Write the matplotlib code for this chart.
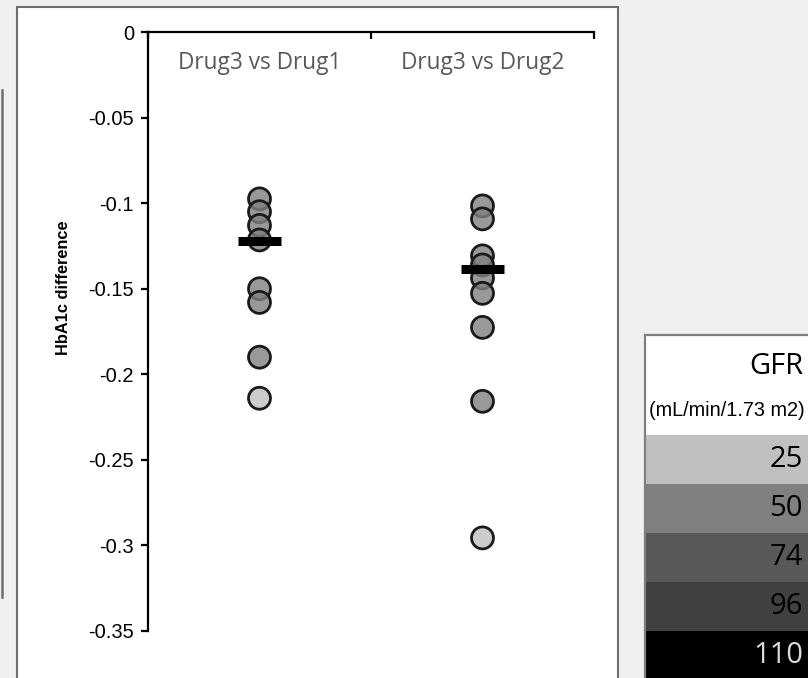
import numpy as np
import matplotlib
matplotlib.use("Agg")
import matplotlib.pyplot as plt
from matplotlib.patches import Rectangle
from matplotlib.lines import Line2D

# comparisons and per-study HbA1c differences
comparisons = ["Drug3 vs Drug1", "Drug3 vs Drug2"]
diff_drug1 = [-0.0975, -0.105, -0.113, -0.1215, -0.150, -0.158, -0.190, -0.214]
gfr_drug1 = [50, 50, 50, 50, 50, 50, 50, 25]
diff_drug2 = [-0.1016, -0.1092, -0.1308, -0.1361, -0.1437, -0.1527, -0.1726, -0.2158, -0.2956]
gfr_drug2 = [50, 50, 50, 50, 50, 50, 50, 50, 25]
pooled = [-0.1224, -0.1385]

yticks = [0, -0.05, -0.1, -0.15, -0.2, -0.25, -0.3, -0.35]
ytick_labels = ["0", "-0.05", "-0.1", "-0.15", "-0.2", "-0.25", "-0.3", "-0.35"]

# GFR legend bands
gfr_levels = [25, 50, 74, 96, 110]
gfr_colors = ["#c0c0c0", "#808080", "#595959", "#404040", "#000000"]
gfr_text_colors = ["black", "black", "black", "black", "#d9d9d9"]
gfr_lookup = dict(zip(gfr_levels, gfr_colors))

W, H = 808, 678
fig = plt.figure(figsize=(W / 100, H / 100), dpi=100, facecolor="#f0f0f0")

# white chart panel plus the edge of the neighbouring panel
fig.patches.append(Rectangle((17 / W, -0.01), (618 - 17) / W, 1 - 7 / H + 0.01,
                             transform=fig.transFigure, facecolor="white",
                             edgecolor="#6e6e6e", lw=1.5, zorder=-5))
fig.lines.append(Line2D([1.5 / W, 1.5 / W], [1 - 597 / H, 1 - 90 / H],
                        transform=fig.transFigure, color="#6e6e6e", lw=1.8, zorder=-5))

ax = fig.add_axes([148 / W, 1 - 631 / H, 446 / W, 599 / H])
ax.patch.set_visible(False)
ax.set_xlim(0.5, 2.5)
ax.set_ylim(-0.35, 0)

for spine in ["right", "bottom"]:
    ax.spines[spine].set_visible(False)
for spine in ["left", "top"]:
    ax.spines[spine].set_linewidth(1.6)
    ax.spines[spine].set_color("black")

ax.xaxis.tick_top()
ax.set_xticks([0.5, 1.5, 2.5])
ax.set_xticklabels([])
ax.tick_params(axis="x", direction="in", length=5, width=1.6)

ax.set_yticks(yticks)
ax.set_yticklabels(ytick_labels, fontsize=14.5, family="Liberation Sans")
ax.tick_params(axis="y", direction="out", length=5, width=1.6, pad=5)

ax.set_ylabel("HbA1c difference", fontsize=11.8, fontweight="bold", family="Liberation Sans")
ax.yaxis.set_label_coords(-0.172, 0.573)

for i, (name, vals, gfr) in enumerate([(comparisons[0], diff_drug1, gfr_drug1),
                                         (comparisons[1], diff_drug2, gfr_drug2)]):
    x = np.full(len(vals), i + 1)
    faces = [matplotlib.colors.to_rgba(gfr_lookup[g], 0.8) for g in gfr]
    ax.scatter(x, vals, s=250, facecolors=faces, edgecolors="#1a1a1a",
               linewidths=2, zorder=3, clip_on=False)
    ax.hlines(pooled[i], i + 1 - 0.095, i + 1 + 0.095, color="black", lw=6.5, zorder=4)
    ax.text(i + 1, -0.018, name, ha="center", va="center", fontsize=16.3,
            family="Open Sans", color="#595959")

# GFR legend table
lg = fig.add_axes([645 / W, 0, (W - 645) / W, (H - 335) / H])
lg.set_xlim(0, W - 645)
lg.set_ylim(H - 335, 0)
lg.set_xticks([])
lg.set_yticks([])
for spine in ["right", "bottom"]:
    lg.spines[spine].set_visible(False)
for spine in ["left", "top"]:
    lg.spines[spine].set_color("#7f7f7f")
    lg.spines[spine].set_linewidth(1.6)

right = W - 645 - 5
lg.text(right, 32, "GFR", ha="right", va="center", fontsize=21, family="Open Sans", color="black")
lg.text(right + 2, 76, "(mL/min/1.73 m2)", ha="right", va="center", fontsize=14.3,
        family="Liberation Sans", color="black")
row_top, row_h = 100, 49
for k, (lvl, col, tcol) in enumerate(zip(gfr_levels, gfr_colors, gfr_text_colors)):
    y0 = row_top + k * row_h
    lg.add_patch(Rectangle((0, y0), W - 645, row_h, facecolor=col, edgecolor="none"))
    lg.text(right, y0 + row_h / 2, str(lvl), ha="right", va="center", fontsize=21,
            family="Open Sans", color=tcol)

fig.savefig("out.png", dpi=100, facecolor=fig.get_facecolor())
